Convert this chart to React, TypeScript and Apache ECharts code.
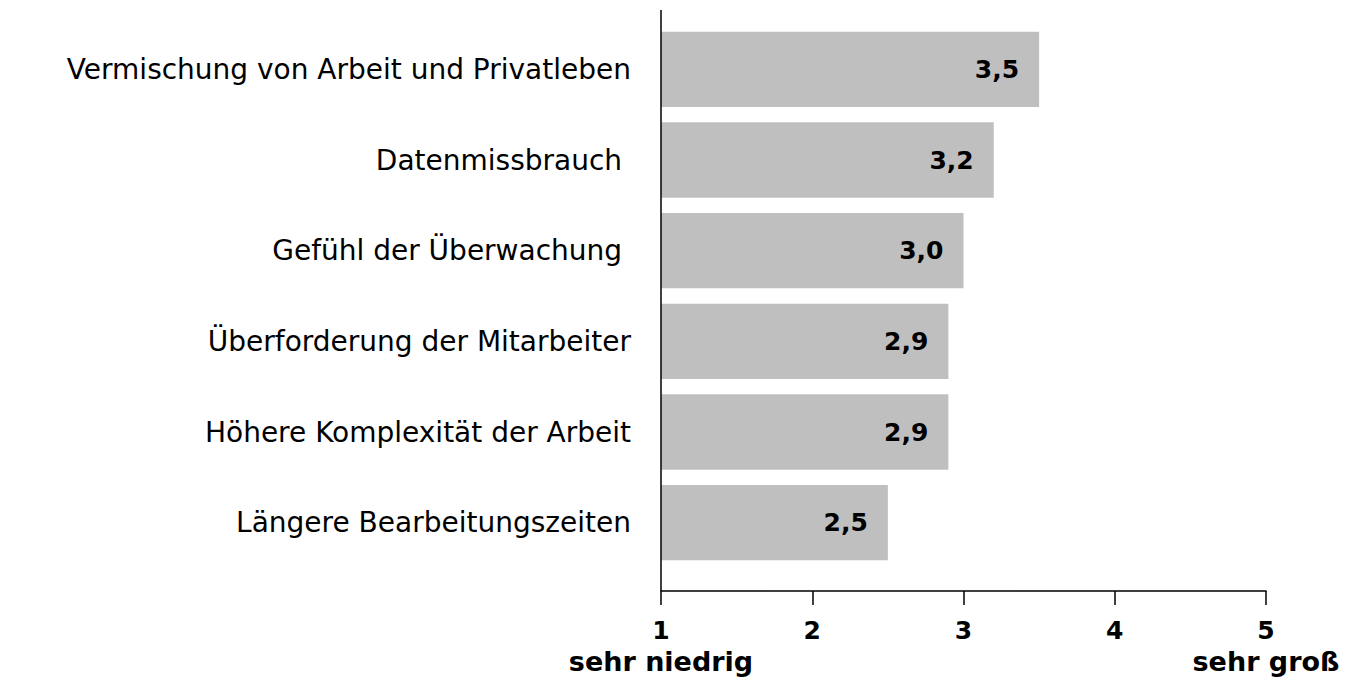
import React, { useEffect, useRef } from "react";
import * as echarts from "echarts";

const categories = [
  "Vermischung von Arbeit und Privatleben",
  "Datenmissbrauch ",
  "Gefühl der Überwachung ",
  "Überforderung der Mitarbeiter",
  "Höhere Komplexität der Arbeit",
  "Längere Bearbeitungszeiten",
];
const values = [3.5, 3.2, 3.0, 2.9, 2.9, 2.5];
const tickLabels: Record<number, string> = { 1: "sehr niedrig", 5: "sehr groß" };

const FONT = "DejaVu Sans";

export default function App() {
  const ref = useRef<HTMLDivElement>(null);
  useEffect(() => {
    if (!ref.current) return;
    const chart = echarts.init(ref.current, undefined, { renderer: "svg" });
    chart.setOption({
      animation: false,
      grid: { left: 653, right: 81, top: 16, bottom: 116, containLabel: false },
      xAxis: {
        type: "value",
        min: 1,
        max: 5,
        interval: 1,
        offset: 23,
        axisLine: { show: true, lineStyle: { color: "#000", width: 1.5 } },
        axisTick: { show: true, length: 14, lineStyle: { color: "#000", width: 1.5 } },
        splitLine: { show: false },
        axisLabel: {
          margin: 25,
          formatter: (v: number) => {
            const sub = tickLabels[v];
            return sub ? `{a|${v}}\n{b|${sub}}` : `{a|${v}}`;
          },
          rich: {
            a: { fontFamily: FONT, fontWeight: "bold", fontSize: 25, color: "#000", lineHeight: 28 },
            b: { fontFamily: FONT, fontWeight: "bold", fontSize: 27, color: "#000", lineHeight: 34 },
          },
        },
      },
      yAxis: {
        type: "category",
        inverse: true,
        data: categories,
        axisLine: { show: false },
        axisTick: { show: false },
        axisLabel: {
          margin: 30,
          fontFamily: FONT,
          fontSize: 28,
          color: "#000",
        },
      },
      graphic: [
        {
          type: "line",
          shape: { x1: 653, y1: 2, x2: 653, y2: 583 },
          style: { stroke: "#000", lineWidth: 1.5 },
          z: 10,
        },
      ],
      series: [
        {
          type: "bar",
          data: values,
          barCategoryGap: "17%",
          itemStyle: { color: "#bfbfbf" },
          label: {
            show: true,
            position: "insideRight",
            distance: 20,
            formatter: (p: any) => p.value.toFixed(1).replace(".", ","),
            fontFamily: FONT,
            fontWeight: "bold",
            fontSize: 25,
            color: "#000",
          },
        },
      ],
    });
    return () => chart.dispose();
  }, []);
  return <div ref={ref} style={{ width: 1339, height: 676 }} />;
}
